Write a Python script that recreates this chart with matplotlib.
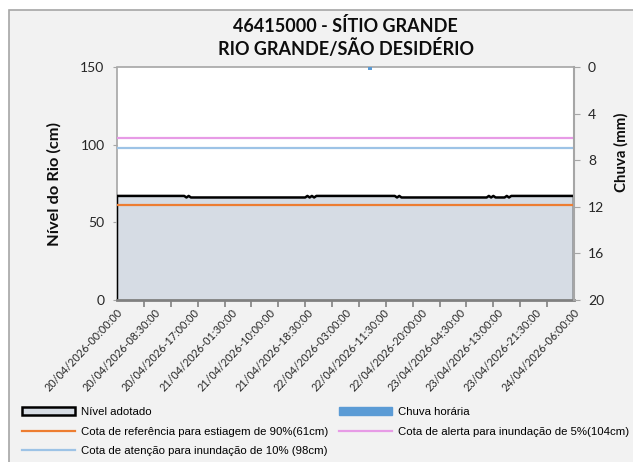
import matplotlib
matplotlib.use("Agg")
import matplotlib.pyplot as plt
from matplotlib.patches import Rectangle, Patch
from matplotlib.lines import Line2D
import numpy as np

# ---------------- data ----------------
title = "46415000 - SÍTIO GRANDE\nRIO GRANDE/SÃO DESIDÉRIO"
step_hours = 0.5  # 30-min readings starting 20/04/2026 00:00
# level readings (cm) as (value, number of consecutive readings)
level_runs = [(67, 31), (66, 1), (67, 1), (66, 52), (67, 1), (66, 1), (67, 1), (66, 1),
              (67, 36), (66, 1), (67, 1), (66, 39), (67, 1), (66, 1), (67, 1), (66, 5),
              (67, 1), (66, 1), (67, 29)]
rain_hours = [56.5]      # hours after start with rain record
rain_mm = [0.25]
ref_estiagem = 61
ref_alerta = 104
ref_atencao = 98
label_hours = [0, 8.5, 17, 25.5, 34, 42.5, 51, 59.5, 68, 76.5, 85, 93.5, 102]
tick_labels = ["20/04/2026-00:00:00", "20/04/2026-08:30:00", "20/04/2026-17:00:00",
               "21/04/2026-01:30:00", "21/04/2026-10:00:00", "21/04/2026-18:30:00",
               "22/04/2026-03:00:00", "22/04/2026-11:30:00", "22/04/2026-20:00:00",
               "23/04/2026-04:30:00", "23/04/2026-13:00:00", "23/04/2026-21:30:00",
               "24/04/2026-06:00:00"]
minor_tick_hours = [0, 6, 12, 18, 24, 30, 36, 42, 48, 54, 60, 66, 72, 78, 84, 90, 96, 102]

level = []
for v, n in level_runs:
    level += [v] * n
level = np.array(level, dtype=float)
hours = np.arange(len(level)) * step_hours

# ---------------- figure ----------------
W, H = 633, 462
fig = plt.figure(figsize=(W / 100, H / 100), dpi=100, facecolor="white")
bg = Rectangle((9 / W, -0.01), 1.0, 1 - 10 / H + 0.01, transform=fig.transFigure,
               facecolor="#F2F2F2", edgecolor="#A6A6A6", lw=1.2, zorder=-10)
fig.add_artist(bg)

ax = fig.add_axes([117 / W, 1 - 300 / H, (574 - 117) / W, (300 - 67) / H])
ax.set_facecolor("white")
ax.fill_between(hours, 0, level, facecolor="#D6DCE4", edgecolor="none", zorder=2)
ax.plot(np.r_[hours[0], hours, hours[-1]], np.r_[0, level, 0], color="black", lw=1.8, zorder=3)
ax.axhline(ref_estiagem, color="#ED7D31", lw=1.6, zorder=4)
ax.axhline(ref_alerta, color="#E79BE6", lw=1.6, zorder=4)
ax.axhline(ref_atencao, color="#9DC3E6", lw=1.6, zorder=4)
ax.set_xlim(0, 102)
ax.set_ylim(0, 150)
ax.set_yticks([0, 50, 100, 150])

for s in ["left", "top"]:
    ax.spines[s].set_color("#A6A6A6")
    ax.spines[s].set_linestyle((0, (1, 1)))
    ax.spines[s].set_linewidth(1.2)
ax.spines["right"].set_visible(False)
ax.spines["bottom"].set_color("#808080")
ax.spines["bottom"].set_linewidth(2)
ax.spines["bottom"].set_zorder(5)

ax.tick_params(axis="y", length=3, color="#A6A6A6", labelsize=10, pad=6, labelcolor="#262626")
for t in ax.get_yticklabels():
    t.set_fontfamily("Lato")

ax.set_xticks(label_hours)
ax.set_xticklabels(tick_labels, rotation=47, ha="right", va="top", rotation_mode="anchor",
                   fontsize=7.8, family="Lato", color="#262626")
ax.set_xticks(minor_tick_hours, minor=True)
ax.tick_params(axis="x", which="major", length=0, pad=5)
ax.tick_params(axis="x", which="minor", length=5, width=1.2, color="#808080")

ax.set_ylabel("Nível do Rio (cm)", fontsize=11.8, fontweight="bold", family="Lato",
              color="#0D0D0D")
ax.yaxis.set_label_coords(-55 / (574 - 117), 0.5)

ax2 = ax.twinx()
ax2.bar(rain_hours, rain_mm, width=0.8, color="#5B9BD5", zorder=3)
ax2.set_ylim(20, 0)
ax2.set_yticks([0, 4, 8, 12, 16, 20])
for s in ["left", "top", "bottom"]:
    ax2.spines[s].set_visible(False)
ax2.spines["right"].set_color("#A6A6A6")
ax2.spines["right"].set_linewidth(1.5)
ax2.tick_params(axis="y", length=4, color="#A6A6A6", labelsize=10, pad=6, labelcolor="#262626")
for t in ax2.get_yticklabels():
    t.set_fontfamily("Lato")
ax2.set_ylabel("Chuva (mm)", fontsize=10.8, fontweight="bold", family="Lato", color="#0D0D0D")
ax2.yaxis.set_label_coords(1 + (614 - 574) / (574 - 117), (300 - 152) / 233)

fig.text((117 + 574) / 2 / W, 1 - 37 / H, title, ha="center", va="center", fontsize=13,
         fontweight="bold", family="Lato", linespacing=1.25, color="#0D0D0D")

handles = [
    Patch(facecolor="#D6DCE4", edgecolor="black", lw=1.8),
    Line2D([], [], color="#ED7D31", lw=1.6),
    Line2D([], [], color="#9DC3E6", lw=1.6),
    Patch(facecolor="#5B9BD5", edgecolor="#5B9BD5"),
    Line2D([], [], color="#E79BE6", lw=1.6),
]
labels = ["Nível adotado", "Cota de referência para estiagem de 90%(61cm)",
          "Cota de atenção para inundação de 10% (98cm)", "Chuva horária",
          "Cota de alerta para inundação de 5%(104cm)"]
fig.legend(handles, labels, loc="upper left", bbox_to_anchor=(22 / W, 1 - 407 / H), ncol=2,
           frameon=False, prop={"family": "Liberation Sans", "size": 8.2}, handlelength=4.65,
           handleheight=0.75, handletextpad=0.5, columnspacing=1.0, labelspacing=0.82,
           borderpad=0, borderaxespad=0)

fig.savefig("out.png", dpi=100, facecolor="white")
